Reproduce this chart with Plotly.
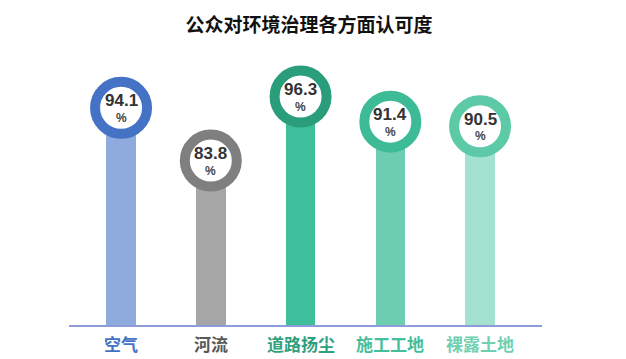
import plotly.graph_objects as go

categories = ["空气", "河流", "道路扬尘", "施工工地", "裸露土地"]
values = [94.1, 83.8, 96.3, 91.4, 90.5]
unit_label = "%"
title_text = "公众对环境治理各方面认可度"

bar_colors = ["#8FAADC", "#A6A6A6", "#3DBF9C", "#6CCDB0", "#A3E2CF"]
ring_colors = ["#4472C4", "#7F7F7F", "#2A9D7B", "#3DBB96", "#5CC9A7"]
label_colors = ["#4472C4", "#595959", "#2F9F7E", "#45BE9A", "#70CFB1"]

W, H = 618, 351

fig = go.Figure()

fig.add_trace(go.Bar(
    x=categories, y=values, width=0.33,
    marker=dict(color=bar_colors, line=dict(width=0)),
    hoverinfo="skip", showlegend=False,
))

fig.add_trace(go.Scatter(
    x=categories, y=values, mode="markers",
    marker=dict(size=52, color="white", line=dict(color=ring_colors, width=10)),
    cliponaxis=False, hoverinfo="skip", showlegend=False,
))

annotations = []
for c, v, lc in zip(categories, values, label_colors):
    annotations.append(dict(
        x=c, y=v, xref="x", yref="y", text=f"<b>{v}</b>", showarrow=False,
        yshift=7, font=dict(family="Liberation Sans, Arial", size=17, color="#333333"),
    ))
    annotations.append(dict(
        x=c, y=v, xref="x", yref="y", text=f"<b>{unit_label}</b>", showarrow=False,
        yshift=-10, font=dict(family="Liberation Sans, Arial", size=12, color="#444444"),
    ))
    annotations.append(dict(
        x=c, y=0, xref="x", yref="paper", text=f"<b>{c}</b>", showarrow=False,
        yshift=-18, yanchor="middle",
        font=dict(family="Noto Sans CJK SC", size=17, color=lc),
    ))

fig.update_layout(
    width=W, height=H,
    margin=dict(l=61, r=84, t=32, b=34, autoexpand=False),
    paper_bgcolor="white", plot_bgcolor="white",
    title=dict(text=f"<b>{title_text}</b>", x=301 / W, xanchor="center",
               y=1 - 17 / H, yanchor="middle", yref="container",
               font=dict(family="Noto Sans CJK SC", size=19, color="#111111")),
    xaxis=dict(type="category", range=[-0.58, 4.69], showticklabels=False,
               showgrid=False, zeroline=False, showline=True,
               linecolor="#8E9CD9", linewidth=2, ticks=""),
    yaxis=dict(range=[51.69, 107.35], visible=False, showgrid=False, zeroline=False),
    annotations=annotations,
    bargap=0,
)

fig.write_html("out.html")
